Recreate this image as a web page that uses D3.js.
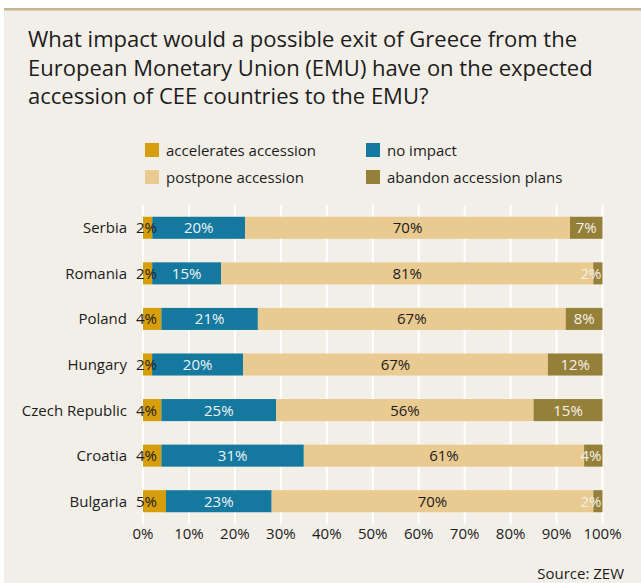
<!DOCTYPE html>
<html lang="en">
<head>
<meta charset="UTF-8">
<title>Greece exit and CEE accession to the EMU</title>
<script src="https://d3js.org/d3.v7.min.js"></script>
<style>
  body { margin: 0; background: #fff; }
  svg text { font-family: "Open Sans", "Noto Sans", sans-serif; fill: #1c1c1c; }
</style>
</head>
<body>
<div id="chart"></div>
<script>
// data
const countries = ["Serbia", "Romania", "Poland", "Hungary", "Czech Republic", "Croatia", "Bulgaria"];
const seriesNames = ["accelerates accession", "no impact", "postpone accession", "abandon accession plans"];
const accelerates = [2, 2, 4, 2, 4, 4, 5];
const noImpact = [20, 15, 21, 20, 25, 31, 23];
const postpone = [70, 81, 67, 67, 56, 61, 70];
const abandon = [7, 2, 8, 12, 15, 4, 2];
const xTicks = [0, 10, 20, 30, 40, 50, 60, 70, 80, 90, 100];

const colors = ["#d59e0a", "#15799f", "#e9ca91", "#948039"];
const labelColors = ["#1c1c1c", "#eef3f6", "#1c1c1c", "#f4f1ea"];

const width = 641, height = 583;
const svg = d3.select("#chart").append("svg")
    .attr("width", width)
    .attr("height", height);

// panel background + top rule
svg.append("rect").attr("x", 4).attr("y", 9).attr("width", width - 4).attr("height", height - 9).attr("fill", "#f2efe8");
svg.append("rect").attr("x", 4).attr("y", 8).attr("width", width - 4).attr("height", 2.5).attr("fill", "#c4b48f");

// title
const title = ["What impact would a possible exit of Greece from the",
    "European Monetary Union (EMU) have on the expected",
    "accession of CEE countries to the EMU?"];
svg.append("g").selectAll("text")
    .data(title)
    .enter()
    .append("text")
    .attr("x", 28)
    .attr("y", (d, i) => 47 + i * 28.5)
    .attr("font-size", 22)
    .text(d => d);

// legend
const legendPos = [[145, 143], [366, 143], [145, 170], [366, 170]];
const legend = svg.append("g").selectAll("g")
    .data(seriesNames)
    .enter()
    .append("g")
    .attr("transform", (d, i) => `translate(${legendPos[i][0]},${legendPos[i][1]})`);
legend.append("rect").attr("width", 14).attr("height", 14).attr("fill", (d, i) => colors[i]);
legend.append("text").attr("x", 21).attr("y", 12.5).attr("font-size", 15).text(d => d);

// scales
const x = d3.scaleLinear().domain([0, 100]).range([143, 602.5]);
const y = d3.scaleBand().domain(countries).range([205, 524]).paddingInner(0.516).paddingOuter(0.258);

// grid
svg.append("g").selectAll("line")
    .data(xTicks)
    .enter()
    .append("line")
    .attr("x1", d => x(d)).attr("x2", d => x(d))
    .attr("y1", 205).attr("y2", 524)
    .attr("stroke", "#ffffff").attr("stroke-width", 2);

// stack, normalised per row so each bar fills 0-100%
const table = countries.map((c, i) => {
    const vals = [accelerates[i], noImpact[i], postpone[i], abandon[i]];
    const total = d3.sum(vals);
    const row = { country: c };
    seriesNames.forEach((s, j) => { row[s] = vals[j] / total * 100; row[s + "_lbl"] = vals[j]; });
    return row;
});
const stacked = d3.stack().keys(seriesNames)(table);

const layers = svg.append("g").selectAll("g")
    .data(stacked)
    .enter()
    .append("g")
    .attr("fill", (d, i) => colors[i]);

layers.selectAll("rect")
    .data(d => d)
    .enter()
    .append("rect")
    .attr("x", d => x(d[0]))
    .attr("y", d => y(d.data.country))
    .attr("width", d => x(d[1]) - x(d[0]))
    .attr("height", y.bandwidth());

// value labels
stacked.forEach((layer, li) => {
    svg.append("g").selectAll("text")
        .data(layer)
        .enter()
        .append("text")
        .attr("y", d => y(d.data.country) + y.bandwidth() / 2 + 5.5)
        .attr("font-size", 15)
        .style("fill", labelColors[li])
        .text(d => d.data[layer.key + "_lbl"] + "%")
        .each(function (d) {
            const t = d3.select(this);
            const w = this.getComputedTextLength();
            let cx = (x(d[0]) + x(d[1])) / 2;
            if (li === 0) cx = x(0) + 3.5;
            if (cx + w / 2 > x(100) - 1) cx = x(100) - 1 - w / 2;
            t.attr("x", cx).attr("text-anchor", "middle");
        });
});

// y labels
svg.append("g").selectAll("text")
    .data(countries)
    .enter()
    .append("text")
    .attr("x", 127)
    .attr("y", d => y(d) + y.bandwidth() / 2 + 5.5)
    .attr("text-anchor", "end")
    .attr("font-size", 15)
    .text(d => d);

// x axis labels
svg.append("g").selectAll("text")
    .data(xTicks)
    .enter()
    .append("text")
    .attr("x", d => x(d))
    .attr("y", 539)
    .attr("text-anchor", "middle")
    .attr("font-size", 15)
    .text(d => d + "%");

svg.append("text")
    .attr("x", 624)
    .attr("y", 579)
    .attr("text-anchor", "end")
    .attr("font-size", 15)
    .text("Source: ZEW");
</script>
</body>
</html>
